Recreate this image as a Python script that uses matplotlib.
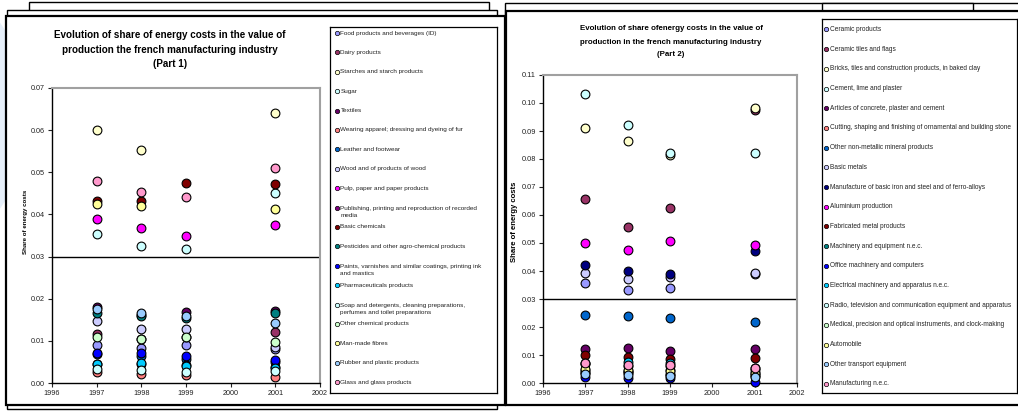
import numpy as np
import matplotlib
matplotlib.use("Agg")
import matplotlib.pyplot as plt
from matplotlib.patches import Rectangle, Ellipse

plt.rcParams['font.family'] = ['Liberation Sans', 'DejaVu Sans']

nan = np.nan
years = [1997, 1998, 1999, 2001]

# ---- part 1 : food, textiles, paper, chemicals ...
part1_labels = [
    "Food products and beverages (ID)",
    "Dairy products",
    "Starches and starch products",
    "Sugar",
    "Textiles",
    "Wearing apparel; dressing and dyeing of fur",
    "Leather and footwear",
    "Wood and of products of wood",
    "Pulp, paper and paper products",
    "Publishing, printing and reproduction of recorded\nmedia",
    "Basic chemicals",
    "Pesticides and other agro-chemical products",
    "Paints, varnishes and similar coatings, printing ink\nand mastics",
    "Pharmaceuticals products",
    "Soap and detergents, cleaning preparations,\nperfumes and toilet preparations",
    "Other chemical products",
    "Man-made fibres",
    "Rubber and plastic products",
    "Glass and glass products",
]
part1_values = [
    [0.0090, 0.0083, 0.0090, 0.0080],
    [0.0117, 0.0104, 0.0108, 0.0121],
    [0.0600, 0.0552, nan, 0.0640],
    [0.0354, 0.0325, 0.0319, 0.0450],
    [0.0180, 0.0161, 0.0169, 0.0172],
    [0.0025, 0.0021, 0.0019, 0.0015],
    [0.0068, 0.0065, 0.0058, 0.0050],
    [0.0147, 0.0128, 0.0128, 0.0085],
    [0.0390, 0.0368, 0.0349, 0.0376],
    [0.0045, 0.0045, 0.0043, 0.0038],
    [0.0433, 0.0433, 0.0474, 0.0473],
    [0.0166, 0.0158, 0.0155, 0.0165],
    [0.0071, 0.0071, 0.0063, 0.0055],
    [0.0044, 0.0047, 0.0041, 0.0036],
    [0.0033, 0.0031, 0.0025, 0.0028],
    [0.0110, 0.0105, 0.0110, 0.0098],
    [0.0425, 0.0420, nan, 0.0413],
    [0.0175, 0.0167, 0.0160, 0.0142],
    [0.0480, 0.0453, 0.0442, 0.0510],
]

# ---- part 2 : minerals, metals, machinery ...
part2_labels = [
    "Ceramic products",
    "Ceramic tiles and flags",
    "Bricks, tiles and construction products, in baked clay",
    "Cement, lime and plaster",
    "Articles of concrete, plaster and cement",
    "Cutting, shaping and finishing of ornamental and building stone",
    "Other non-metallic mineral products",
    "Basic metals",
    "Manufacture of basic iron and steel and of ferro-alloys",
    "Aluminium production",
    "Fabricated metal products",
    "Machinery and equipment n.e.c.",
    "Office machinery and computers",
    "Electrical machinery and apparatus n.e.c.",
    "Radio, television and communication equipment and apparatus",
    "Medical, precision and optical instruments, and clock-making",
    "Automobile",
    "Other transport equipment",
    "Manufacturing n.e.c.",
]
part2_values = [
    [0.0357, 0.0332, 0.0338, 0.0390],
    [0.0657, 0.0558, 0.0624, 0.0975],
    [0.0910, 0.0865, 0.0814, 0.0983],
    [0.1031, 0.0921, 0.0822, 0.0820],
    [0.0120, 0.0125, 0.0114, 0.0121],
    [0.0068, 0.0062, 0.0060, 0.0052],
    [0.0243, 0.0240, 0.0231, 0.0218],
    [0.0392, 0.0370, 0.0377, 0.0393],
    [0.0421, 0.0400, 0.0389, 0.0473],
    [0.0500, 0.0476, 0.0508, 0.0492],
    [0.0099, 0.0094, 0.0085, 0.0088],
    [0.0045, 0.0044, 0.0046, 0.0035],
    [0.0023, 0.0019, 0.0017, 0.0005],
    [0.0072, 0.0074, 0.0073, 0.0045],
    [0.0040, 0.0038, 0.0032, 0.0030],
    [0.0036, 0.0034, 0.0028, 0.0026],
    [0.0050, 0.0046, 0.0043, 0.0036],
    [0.0033, 0.0030, 0.0025, 0.0023],
    [0.0070, 0.0063, 0.0063, 0.0055],
]

# excel-like marker fills
part1_colors = ["#9999FF", "#993366", "#FFFFCC", "#CCFFFF", "#660066", "#FF8080",
                "#0066CC", "#CCCCFF", "#FF00FF", "#800080", "#800000", "#008080",
                "#0000FF", "#00CCFF", "#CCFFFF", "#CCFFCC", "#FFFF99", "#99CCFF",
                "#FF99CC"]
part2_colors = ["#9999FF", "#993366", "#FFFFCC", "#CCFFFF", "#660066", "#FF8080",
                "#0066CC", "#CCCCFF", "#000080", "#FF00FF", "#800000", "#008080",
                "#0000FF", "#00CCFF", "#CCFFFF", "#CCFFCC", "#FFFF99", "#99CCFF",
                "#FF99CC"]

W, H = 1018, 413
fig = plt.figure(figsize=(W / 100, H / 100), dpi=100)


def fbox(x0, y0, x1, y1):
    # pixel box (top-left origin) -> figure fraction rect
    return [x0 / W, 1 - y1 / H, (x1 - x0) / W, (y1 - y0) / H]


def frame(x0, y0, x1, y1, lw=1.0, z=-5):
    l, b, w, h = fbox(x0, y0, x1, y1)
    fig.add_artist(Rectangle((l, b), w, h, transform=fig.transFigure,
                             facecolor="white", edgecolor="black", lw=lw, zorder=z))


# pale blue swoosh in the page background
fig.add_artist(Ellipse((-0.12, 0.72), 0.30, 0.75, transform=fig.transFigure,
                       facecolor="#e6eff9", edgecolor="none", zorder=-10))

# stacked sheets and chart areas
frame(29, 2, 489, 400, 1.0, -8)
frame(7, 10, 497, 409, 1.0, -7)
frame(6, 16, 505, 405, 1.6, -6)
frame(505, 3, 1030, 402, 1.0, -8)
frame(822, 3, 973, 30, 1.0, -7)
frame(506, 11, 1030, 405, 1.6, -6)


def scatter_panel(rect, values, colors, ymax, tick_fs):
    ax = fig.add_axes(fbox(*rect))
    ax.set_facecolor("white")
    for vals, c in zip(values, colors):
        ax.scatter(years, vals, s=40, c=c, edgecolors="black", linewidths=0.8,
                   zorder=3, clip_on=False)
    ax.axhline(0.03, color="black", lw=1.0, zorder=2)
    ax.set_xlim(1996, 2002)
    ax.set_ylim(0, ymax)
    ax.set_xticks(range(1996, 2003))
    ax.set_yticks(np.arange(0, ymax + 0.001, 0.01))
    ax.yaxis.set_major_formatter(matplotlib.ticker.FormatStrFormatter("%.2f"))
    ax.tick_params(length=3, width=0.8, labelsize=tick_fs, pad=2, colors="#222222")
    for s in ("left", "bottom"):
        ax.spines[s].set_color("black")
        ax.spines[s].set_linewidth(1.0)
    for s in ("top", "right"):
        ax.spines[s].set_color("#a0a0a0")
        ax.spines[s].set_linewidth(1.5)
    return ax


def legend_panel(rect, labels, colors, first, step, mx, tx, fs):
    x0, y0, x1, y1 = rect
    lax = fig.add_axes(fbox(*rect))
    lax.set_xlim(0, x1 - x0)
    lax.set_ylim(y1 - y0, 0)
    lax.set_xticks([])
    lax.set_yticks([])
    for s in lax.spines.values():
        s.set_linewidth(0.9)
    line_px = fs * 1.45 * 100 / 72
    for i, (lab, c) in enumerate(zip(labels, colors)):
        y = first + i * step
        lax.scatter([mx], [y], s=10, c=c, edgecolors="black", linewidths=0.5)
        nl = lab.count("\n")
        lax.text(tx, y + nl * line_px / 2, lab, fontsize=fs, va="center", ha="left",
                 color="#222222", linespacing=1.45)
    return lax


# ---- part 1
ax1 = scatter_panel((52, 88, 320, 383), part1_values, part1_colors, 0.07, 5.2)
t1 = ["Evolution of share of energy costs in the value of",
      "production the french manufacturing industry",
      "(Part 1)"]
for txt, yy in zip(t1, [35, 50, 64]):
    fig.text(170 / W, 1 - yy / H, txt, ha="center", va="center",
             fontsize=7.1, fontweight="bold")
fig.text(25 / W, 1 - 222 / H, "Share of energy costs", rotation=90,
         ha="center", va="center", fontsize=4.4, fontweight="bold")
legend_panel((330, 27, 497, 393), part1_labels, part1_colors, 6.0, 19.4, 6.5, 10.5, 4.55)

# ---- part 2
ax2 = scatter_panel((543, 75, 797, 383), part2_values, part2_colors, 0.11, 5.3)
t2 = ["Evolution of share ofenergy costs in the value of",
      "production in the french manufacturing industry",
      "(Part 2)"]
for txt, yy in zip(t2, [28.5, 42, 55]):
    fig.text(671 / W, 1 - yy / H, txt, ha="center", va="center",
             fontsize=5.7, fontweight="bold")
fig.text(515 / W, 1 - 222 / H, "Share of energy costs", rotation=90,
         ha="center", va="center", fontsize=5.6, fontweight="bold")
legend_panel((822, 19, 1017, 393), part2_labels, part2_colors, 10.4, 19.7, 3.5, 7.5, 4.7)

fig.savefig("out.png", dpi=100)
plt.close(fig)
